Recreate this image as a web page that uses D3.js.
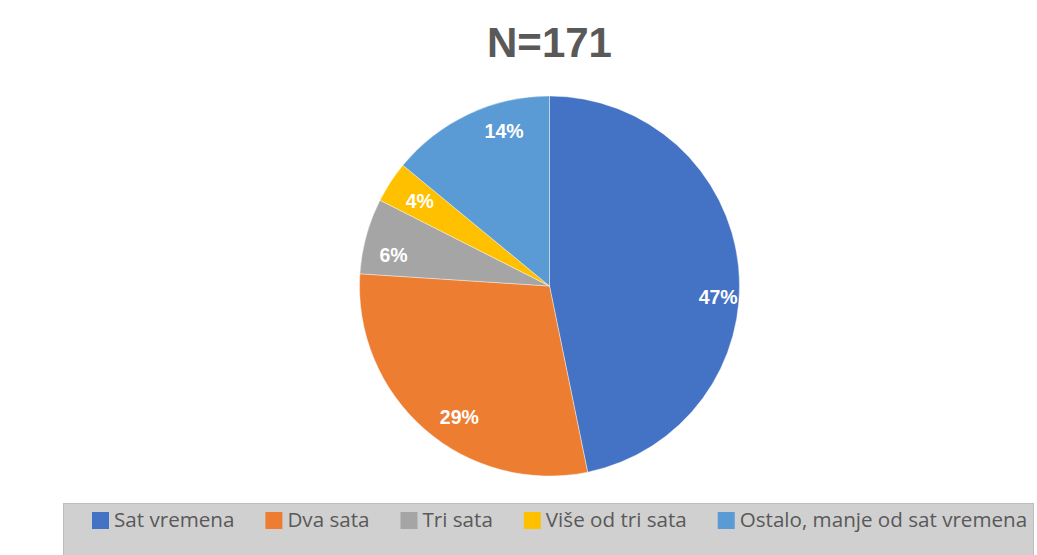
<!DOCTYPE html>
<html>
<head>
<meta charset="utf-8">
<script src="https://cdn.jsdelivr.net/npm/d3@7"></script>
<style>
html,body{margin:0;padding:0;background:#fff;}
svg{display:block;}
</style>
</head>
<body>
<svg id="chart" width="1037" height="555"></svg>
<script>
const categories = ["Sat vremena", "Dva sata", "Tri sata", "Više od tri sata", "Ostalo, manje od sat vremena"];
const counts = [80, 50, 11, 6, 24];
const percentLabels = ["47%", "29%", "6%", "4%", "14%"];
const colors = ["#4472C4", "#ED7D31", "#A5A5A5", "#FFC000", "#5B9BD5"];
const title = "N=171";

const W = 1037, H = 555;
const cx = 549.5, cy = 286, R = 190;
const svg = d3.select("#chart");

svg.append("text")
  .attr("x", cx).attr("y", 57)
  .attr("text-anchor", "middle")
  .attr("font-family", "Liberation Sans, Arial, sans-serif")
  .attr("font-weight", "bold")
  .attr("font-size", 42)
  .attr("fill", "#595959")
  .text(title);

const pie = d3.pie().sort(null).value(d => d);
const arcs = pie(counts);
const arc = d3.arc().innerRadius(0).outerRadius(R);

const g = svg.append("g").attr("transform", `translate(${cx},${cy})`);
g.selectAll("path.slice").data(arcs).enter().append("path")
  .attr("class", "slice")
  .attr("d", arc)
  .attr("fill", (d, i) => colors[i])
  .attr("stroke", "#ffffff")
  .attr("stroke-width", 0.4);

// label placement (layout: radius and small angular nudges, degrees)
const labelRadius = [169, 159, 159, 155, 162];
const labelNudge = [9.5, -6.5, -4, 0, 9];
g.selectAll("text.lbl").data(arcs).enter().append("text")
  .attr("class", "lbl")
  .attr("transform", (d, i) => {
    const a = (d.startAngle + d.endAngle) / 2 + labelNudge[i] * Math.PI / 180;
    const r = labelRadius[i];
    return `translate(${r * Math.sin(a)},${-r * Math.cos(a)})`;
  })
  .attr("text-anchor", "middle")
  .attr("dy", "0.36em")
  .attr("font-family", "Liberation Sans, Arial, sans-serif")
  .attr("font-weight", "bold")
  .attr("font-size", 19.5)
  .attr("fill", "#ffffff")
  .text((d, i) => percentLabels[i]);

// legend
const legend = svg.append("g");
legend.append("rect")
  .attr("x", 63.5).attr("y", 503.5)
  .attr("width", 970).attr("height", 60)
  .attr("fill", "#d0d0d0")
  .attr("stroke", "#bdbdbd")
  .attr("stroke-width", 1);

let x = 92;
categories.forEach((c, i) => {
  legend.append("rect")
    .attr("x", x).attr("y", 512)
    .attr("width", 17).attr("height", 17)
    .attr("fill", colors[i]);
  const t = legend.append("text")
    .attr("x", x + 22).attr("y", 527)
    .attr("font-family", "Open Sans, sans-serif")
    .attr("font-size", 20.6)
    .attr("fill", "#595959")
    .text(c);
  x = x + 22 + t.node().getComputedTextLength() + 31;
});
</script>
</body>
</html>
